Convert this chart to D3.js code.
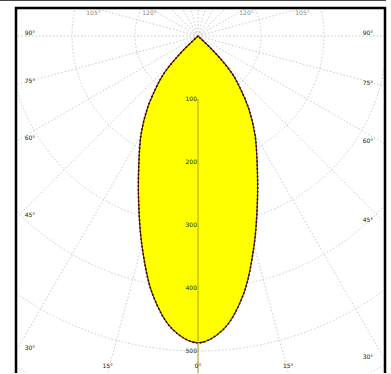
<!DOCTYPE html>
<html>
<head>
<meta charset="utf-8">
<script src="https://cdn.jsdelivr.net/npm/d3@7"></script>
<style>
html,body{margin:0;padding:0;background:#fff;}
svg{display:block;}
</style>
</head>
<body>
<svg id="chart" width="391" height="374"></svg>
<script>
// ---- data ----
const patternAngles = [-48, -46, -44, -42, -39, -35, -30, -25, -20, -15, -10, -5, 0, 5, 10, 15, 20, 25, 30, 35, 39, 42, 44, 46, 48];
const patternValues = [0, 32, 59, 83, 106, 140, 181, 222, 276, 344, 416, 467, 487, 467, 416, 344, 276, 222, 181, 140, 106, 83, 59, 32, 0];
const radialTicks = [100, 200, 300, 400, 500, 600];
const radialTickLabels = ["100", "200", "300", "400", "500", ""];
const angleTicks = [-165, -150, -135, -120, -105, -90, -75, -60, -45, -30, -15, 0, 15, 30, 45, 60, 75, 90, 105, 120, 135, 150, 165, 180];
const labelledAngles = [-120, -105, -90, -75, -60, -45, -30, -15, 0, 15, 30, 45, 60, 75, 90, 105, 120];

// ---- layout ----
const frame = {x0: 16, y0: 8, x1: 385, y1: 373};
const cx = 198, cy = 36;
const svg = d3.select("#chart");

const r = d3.scaleLinear().domain([0, 100]).range([0, 63]);
const toRad = d => d * Math.PI / 180;

svg.append("defs").append("clipPath").attr("id", "clip")
  .append("rect").attr("x", frame.x0).attr("y", frame.y0)
  .attr("width", frame.x1 - frame.x0).attr("height", frame.y1 - frame.y0);

// top rule of the picture
svg.append("line").attr("x1", 0).attr("x2", 386).attr("y1", 0.5).attr("y2", 0.5)
  .attr("stroke", "#444").attr("stroke-width", 1.2);

const g = svg.append("g").attr("clip-path", "url(#clip)");
const polar = g.append("g").attr("transform", `translate(${cx},${cy})`);

// grid circles
polar.selectAll("circle.grid").data(radialTicks).enter().append("circle")
  .attr("class", "grid").attr("r", d => r(d))
  .attr("fill", "none").attr("stroke", "#cacaca").attr("stroke-width", 1)
  .attr("stroke-dasharray", "1.5,2");

// radial spokes (angle measured from straight down, positive to the right)
const spokeLen = 600;
polar.selectAll("line.spoke").data(angleTicks).enter().append("line")
  .attr("class", "spoke")
  .attr("x1", 0).attr("y1", 0)
  .attr("x2", d => spokeLen * Math.sin(toRad(d)))
  .attr("y2", d => spokeLen * Math.cos(toRad(d)))
  .attr("stroke", "#cacaca").attr("stroke-width", 1)
  .attr("stroke-dasharray", "1.5,2");

// pattern lobe
const radial = d3.lineRadial()
  .angle(d => Math.PI - toRad(d[0]))
  .radius(d => r(d[1]))
  .curve(d3.curveCatmullRom.alpha(0.5));
const pts = patternAngles.map((a, i) => [a, patternValues[i]]);

polar.append("path").datum(pts)
  .attr("d", d => radial(d) + "Z")
  .attr("fill", "#ffff00")
  .attr("stroke", "#8a1c00").attr("stroke-width", 1.2);

polar.append("path").datum(pts)
  .attr("d", radial)
  .attr("fill", "none")
  .attr("stroke", "#111").attr("stroke-width", 1.6)
  .attr("stroke-dasharray", "1.6,2.2");

// zero-degree axis over the lobe
polar.append("line")
  .attr("x1", 0).attr("x2", 0)
  .attr("y1", r(radialTicks[0])).attr("y2", r(560))
  .attr("stroke", "#b0a400").attr("stroke-width", 1);

// radial tick labels
polar.selectAll("text.rtick").data(radialTicks).enter().append("text")
  .attr("class", "rtick")
  .attr("x", -1).attr("y", d => r(d) + 2)
  .attr("text-anchor", "end")
  .attr("font-family", "DejaVu Sans, sans-serif").attr("font-size", 6)
  .attr("fill", "#222")
  .text((d, i) => radialTickLabels[i]);

// angle labels just inside the frame where each spoke leaves it
function exitInfo(deg) {
  const dx = Math.sin(toRad(deg)), dy = Math.cos(toRad(deg));
  let t = Infinity, side = "";
  if (dx > 1e-9 && (frame.x1 - cx) / dx < t) { t = (frame.x1 - cx) / dx; side = "x"; }
  if (dx < -1e-9 && (frame.x0 - cx) / dx < t) { t = (frame.x0 - cx) / dx; side = "x"; }
  if (dy > 1e-9 && (frame.y1 - cy) / dy < t) { t = (frame.y1 - cy) / dy; side = "b"; }
  if (dy < -1e-9 && (frame.y0 - cy) / dy < t) { t = (frame.y0 - cy) / dy; side = "t"; }
  return {t, side, dx, dy};
}
const labelG = svg.append("g");
labelledAngles.forEach(d => {
  const e = exitInfo(d);
  let x = cx + e.t * e.dx, y = cy + e.t * e.dy;
  if (e.side === "x") { x += (e.dx > 0 ? -17 : 14); y -= 3; }
  else if (e.side === "b") { y -= 7; }
  else { y += 5; }
  labelG.append("text")
    .attr("x", x).attr("y", y)
    .attr("text-anchor", "middle")
    .attr("dominant-baseline", "middle")
    .attr("font-family", "DejaVu Sans, sans-serif").attr("font-size", 6)
    .attr("fill", Math.abs(d) > 90 ? "#888" : "#222")
    .text(Math.abs(d) + "°");
});

// frame
svg.append("path")
  .attr("d", `M${frame.x0},${frame.y1} V${frame.y0} H${frame.x1} V${frame.y1}`)
  .attr("fill", "none").attr("stroke", "#000").attr("stroke-width", 2.5);
</script>
</body>
</html>
